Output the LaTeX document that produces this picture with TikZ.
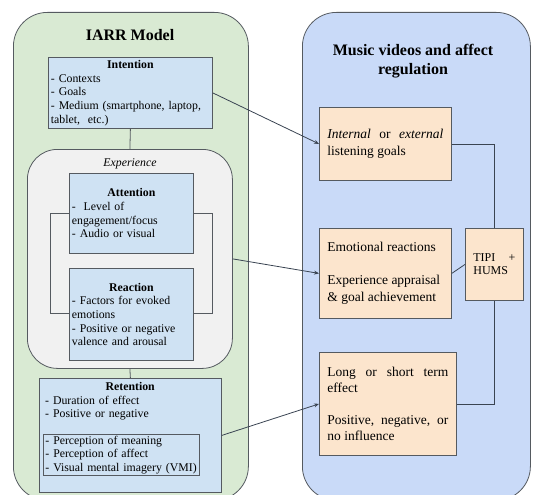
\documentclass[tikz,border=0pt]{standalone}
\usepackage{fontspec}
\setmainfont{Liberation Serif}
\usetikzlibrary{arrows.meta}
\definecolor{panelgreen}{HTML}{D9EAD3}
\definecolor{panelblue}{HTML}{C9DAF8}
\definecolor{boxblue}{HTML}{CFE2F3}
\definecolor{boxorange}{HTML}{FCE5CD}
\definecolor{expgrey}{HTML}{F1F1F1}
\definecolor{edgecol}{HTML}{555A60}
\definecolor{wirecol}{HTML}{3A4452}
\newcommand\mybody{\fontsize{11.8}{13.7}\selectfont}
\newcommand\myorange{\fontsize{13.5}{16.5}\selectfont}
\newcommand\mytitle{\fontsize{16}{19.5}\selectfont\bfseries}
\newcommand\myhead[1]{\makebox[\linewidth]{\textbf{#1}}}
\begin{document}
\begin{tikzpicture}[x=1pt,y=-1pt,
  panel/.style={draw=edgecol, line width=0.8pt, rounded corners=34pt, anchor=north west, inner sep=0pt},
  bluebox/.style={draw=edgecol, line width=0.8pt, fill=boxblue, anchor=north west, inner xsep=2.5pt, inner ysep=0pt, align=left, font=\mybody},
  orangebox/.style={draw=edgecol, line width=0.8pt, fill=boxorange, anchor=north west, inner xsep=8pt, inner ysep=0pt, align=justify, font=\myorange},
  wire/.style={draw=wirecol, line width=0.8pt},
  arrowline/.style={wire, -{Stealth[length=5pt,width=4pt]}}
]
\clip (0,0) rectangle (536,495);
\fill[white] (0,0) rectangle (536,495);

% panels
\node[panel, fill=panelgreen, minimum width=235pt, minimum height=488pt] (iarr) at (13,12) {};
\node[panel, fill=panelblue, minimum width=228pt, minimum height=488pt] (music) at (302,12) {};
\node[font=\mytitle] (iarrtitle) at (130,35) {IARR Model};
\node[font=\mytitle, align=center] (musictitle) at (413,61) {Music videos and affect\\regulation};

% left side
\node[panel, fill=expgrey, rounded corners=30pt, minimum width=205pt, minimum height=219pt] (exp) at (27,149) {};
\node[font=\mybody\itshape] (explabel) at (130,164) {Experience};
\draw[draw=edgecol, line width=0.8pt] (50,213) rectangle (212,313);

\node[bluebox, minimum width=164pt, minimum height=71pt, text width=159pt] (intent) at (48,57)
  {\myhead{Intention}\\- Contexts\\- Goals\\- Medium (smartphone, laptop,\\tablet,\ \ etc.)};
\node[bluebox, minimum width=124pt, minimum height=80pt, text width=119pt] (att) at (69,173)
  {\myhead{Attention}\\-\ \ Level of\\engagement/focus\\- Audio or visual};
\node[bluebox, minimum width=124pt, minimum height=92pt, text width=119pt] (react) at (69,268)
  {\myhead{Reaction}\\- Factors for evoked\\emotions\\- Positive or negative\\valence and arousal};

\node[bluebox, minimum width=182pt, minimum height=114pt] (ret) at (39,378) {};
\node[anchor=north west, inner sep=0pt, text width=170pt, align=left, font=\mybody] (rettext) at (45,382)
  {\myhead{Retention}\\- Duration of effect\\- Positive or negative};
\node[bluebox, inner xsep=1.5pt, minimum width=156pt, minimum height=41pt, text width=152pt] (retin) at (43,434)
  {- Perception of meaning\\- Perception of affect\\- Visual mental imagery (VMI)};

% right side
\node[orangebox, minimum width=132pt, minimum height=73pt, text width=116pt] (ob1) at (319,107)
  {\textit{Internal} or \textit{external}\linebreak listening goals};
\node[orangebox, minimum width=132pt, minimum height=90pt, text width=116pt] (ob2) at (319,228)
  {Emotional reactions\\[16.5pt]Experience appraisal\\\& goal achievement};
\node[orangebox, minimum width=137pt, minimum height=103pt, text width=121pt] (ob3) at (319,352)
  {Long or short term\linebreak effect\\[15pt]Positive, negative, or\linebreak no influence};
\node[orangebox, font=\fontsize{12}{13}\selectfont, minimum width=58pt, minimum height=72pt, text width=42pt] (tipi) at (465,228)
  {TIPI +\linebreak HUMS};

% connectors
\draw[wire, draw=edgecol] (intent.south) -- (exp.north);
\draw[wire, draw=edgecol] (exp.south) -- (ret.north);
\draw[arrowline] (intent.east) -- (ob1.west);
\draw[arrowline] (exp.east) -- (ob2.west);
\draw[arrowline] (ret.east) -- (ob3.west);
\draw[wire] (ob1.east) -| (tipi.north);
\draw[wire] (ob2.east) -- (tipi.west);
\draw[wire] (ob3.east) -| (tipi.south);
\end{tikzpicture}
\end{document}
